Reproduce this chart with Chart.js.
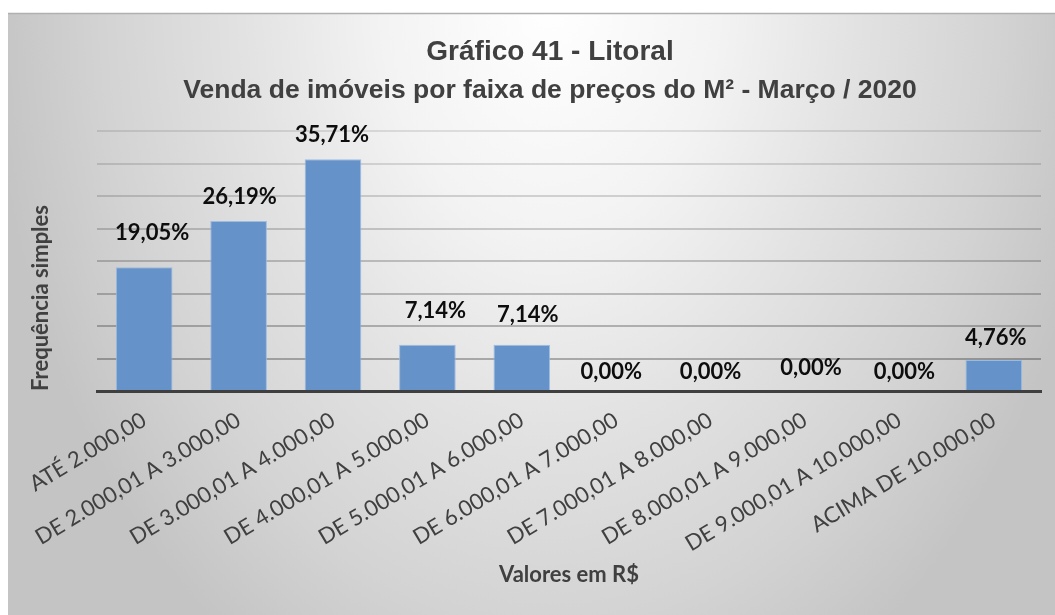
<!DOCTYPE html>
<html lang="pt-BR">
<head>
<meta charset="utf-8">
<title>Gráfico 41 - Litoral</title>
<script src="https://cdn.jsdelivr.net/npm/chart.js@4.4.1/dist/chart.umd.min.js"></script>
<style>
  html, body { margin: 0; padding: 0; background: #ffffff; }
</style>
</head>
<body>
<canvas id="grafico41" width="1055" height="615"></canvas>
<script>
// faixas de preço do m² e percentual de vendas em cada uma
const faixas = [
  "ATÉ 2.000,00",
  "DE 2.000,01 A 3.000,00",
  "DE 3.000,01 A 4.000,00",
  "DE 4.000,01 A 5.000,00",
  "DE 5.000,01 A 6.000,00",
  "DE 6.000,01 A 7.000,00",
  "DE 7.000,01 A 8.000,00",
  "DE 8.000,01 A 9.000,00",
  "DE 9.000,01 A 10.000,00",
  "ACIMA DE 10.000,00"
];
const percentuais = [19.05, 26.19, 35.71, 7.14, 7.14, 0, 0, 0, 0, 4.76];

const titulo = "Gráfico 41 - Litoral";
const subtitulo = "Venda de imóveis por faixa de preços do M² - Março / 2020";
const tituloX = "Valores em R$";
const tituloY = "Frequência simples";

// deslocamento dos rótulos de valor (px) em relação ao topo da barra
const ajusteRotulos = {
  dx: [8, 1, -1, 8, 6, -5, 0, 6, 5, 2],
  dy: [34, 24, 24, 34, 30, 19, 19, 23, 19, 22]
};

function formataPct(v) {
  return v.toFixed(2).replace(".", ",") + "%";
}

// fundo cinza em degradê com a moldura do gráfico
const fundo = {
  id: "fundo",
  beforeDraw(chart) {
    const ctx = chart.ctx;
    const w = chart.width, h = chart.height;
    ctx.save();
    ctx.fillStyle = "#ffffff";
    ctx.fillRect(0, 0, w, h);

    ctx.save();
    ctx.beginPath();
    ctx.rect(8, 13, w - 8, h - 13);
    ctx.clip();
    ctx.translate(550, 0);
    ctx.scale(1, 780 / 560);
    const g = ctx.createRadialGradient(0, 0, 0, 0, 0, 560);
    g.addColorStop(0, "#ffffff");
    g.addColorStop(0.3, "#f3f3f3");
    g.addColorStop(0.55, "#e2e2e2");
    g.addColorStop(0.8, "#d3d3d3");
    g.addColorStop(1, "#c4c4c4");
    ctx.fillStyle = g;
    ctx.fillRect(-600, 0, 1200, h);
    ctx.restore();

    ctx.strokeStyle = "#b0b0b0";
    ctx.lineWidth = 1.5;
    ctx.beginPath();
    ctx.moveTo(8, 13.5);
    ctx.lineTo(w, 13.5);
    ctx.stroke();
    ctx.restore();
  }
};

// rótulos de percentual acima das barras
const rotulos = {
  id: "rotulos",
  afterDatasetsDraw(chart) {
    const ctx = chart.ctx;
    const meta = chart.getDatasetMeta(0);
    ctx.save();
    ctx.font = "bold 22px Lato";
    ctx.fillStyle = "#0d0d0d";
    ctx.textAlign = "center";
    ctx.textBaseline = "middle";
    meta.data.forEach((bar, i) => {
      const v = chart.data.datasets[0].data[i];
      ctx.fillText(formataPct(v), bar.x + ajusteRotulos.dx[i], bar.y - ajusteRotulos.dy[i]);
    });
    ctx.restore();
  }
};

const grafica = document.getElementById("grafico41").getContext("2d");

const myChart = new Chart(grafica, {
  type: "bar",
  data: {
    labels: faixas,
    datasets: [
      {
        label: "Frequência simples",
        data: percentuais,
        backgroundColor: "#6592c8",
        borderColor: "rgba(150, 184, 226, 0.9)",
        borderWidth: 1,
        barPercentage: 0.6,
        categoryPercentage: 1.0
      }
    ]
  },
  options: {
    responsive: false,
    animation: false,
    devicePixelRatio: 1,
    layout: {
      padding: { left: 59, right: 14, top: 0, bottom: 0 }
    },
    plugins: {
      legend: { display: false },
      tooltip: { enabled: false },
      title: {
        display: true,
        text: titulo,
        color: "#404040",
        font: { family: "Liberation Sans", size: 28, weight: "bold" },
        padding: { top: 35, bottom: 0 }
      },
      subtitle: {
        display: true,
        text: subtitulo,
        color: "#404040",
        font: { family: "Liberation Sans", size: 26.5, weight: "bold" },
        padding: { top: 6, bottom: 25 }
      }
    },
    scales: {
      x: {
        grid: { display: false, drawTicks: false },
        border: { color: "#3f3f3f", width: 3 },
        ticks: {
          color: "#404040",
          font: { family: "Lato", size: 22 },
          minRotation: 31,
          maxRotation: 31,
          autoSkip: false,
          padding: 16
        },
        title: {
          display: true,
          text: tituloX,
          color: "#404040",
          font: { family: "Lato", size: 22, weight: "bold" },
          padding: { top: 0, bottom: 27 }
        },
        afterFit(scale) {
          scale.height = 224;
        }
      },
      y: {
        min: 0,
        max: 40,
        ticks: { stepSize: 5, display: false },
        grid: {
          drawTicks: false,
          lineWidth: 2,
          color: (c) => "rgba(0, 0, 0, " + (0.3 - c.index * 0.025).toFixed(3) + ")"
        },
        border: { display: false },
        title: {
          display: true,
          text: tituloY,
          align: "start",
          color: "#404040",
          font: { family: "Lato", size: 22, weight: "bold" },
          padding: { top: -31, bottom: 0 }
        },
        afterFit(scale) {
          scale.width = 38;
        }
      }
    }
  },
  plugins: [fundo, rotulos]
});
</script>
</body>
</html>
